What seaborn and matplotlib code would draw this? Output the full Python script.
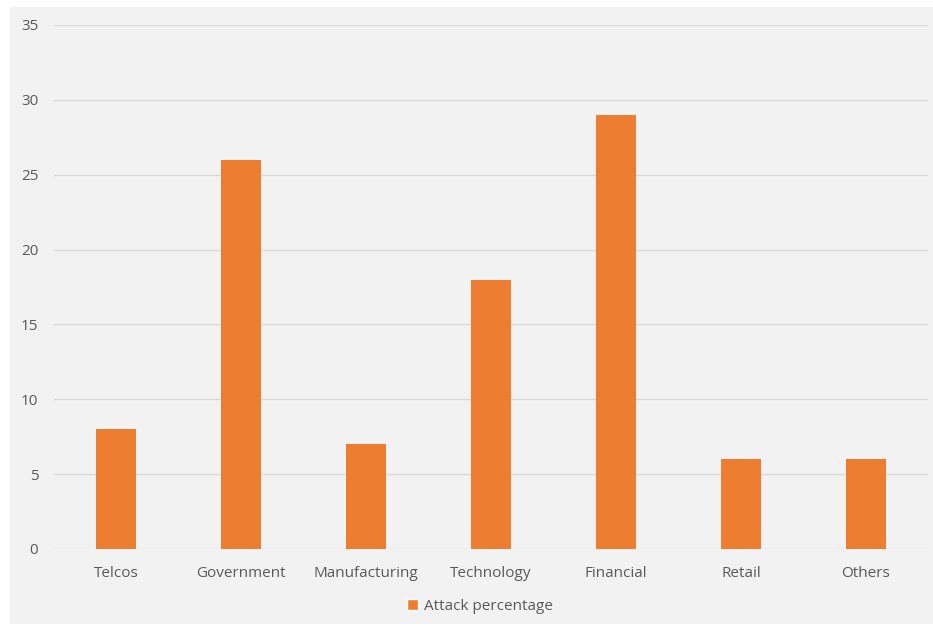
import pandas as pd
import seaborn as sns
import matplotlib.pyplot as plt
from matplotlib.patches import Rectangle, Patch

sectors = ["Telcos", "Government", "Manufacturing", "Technology", "Financial", "Retail", "Others"]
attack_pct = [8, 26, 7, 18, 29, 6, 6]

df = pd.DataFrame({"Sector": sectors, "Attack percentage": attack_pct})

sns.set_style("white")
plt.rcParams['font.family'] = ['Open Sans', 'DejaVu Sans']

text_col = "#595959"
orange = "#ED7D31"
bg = "#F2F2F2"

fig = plt.figure(figsize=(9.33, 6.25), dpi=100, facecolor="white")
W, H = 933, 625
# grey chart panel
fig.patches.append(Rectangle((10 / W, 1 - 624 / H), (933 - 10) / W, (624 - 7) / H,
                             transform=fig.transFigure, facecolor=bg, edgecolor="none", zorder=-5))

ax = fig.add_axes([53.5 / W, 1 - 549 / H, (928.5 - 53.5) / W, (549 - 25) / H])
ax.set_facecolor("none")
ax.set_zorder(2)

sns.barplot(data=df, x="Sector", y="Attack percentage", color=orange, width=0.32,
            saturation=1, linewidth=0, ax=ax, zorder=3)

ax.set_ylim(0, 35)
ax.set_xlim(-0.5, len(sectors) - 0.5)
ax.set_yticks(range(0, 36, 5))
ax.grid(axis="y", color="#D9D9D9", linewidth=1, zorder=0)
ax.set_axisbelow(True)
for s in ax.spines.values():
    s.set_visible(False)
ax.tick_params(axis="both", length=0, labelsize=11, labelcolor=text_col)
ax.tick_params(axis="y", pad=11)
ax.tick_params(axis="x", pad=12)
ax.set_xlabel("")
ax.set_ylabel("")

fig.legend(handles=[Patch(facecolor=orange, label="Attack percentage")],
           loc="center", bbox_to_anchor=(480 / W, 1 - 606 / H), frameon=False,
           fontsize=11, labelcolor=text_col, handlelength=0.7, handleheight=0.7,
           handletextpad=0.4)

fig.savefig("out.png", dpi=100, facecolor="white")
